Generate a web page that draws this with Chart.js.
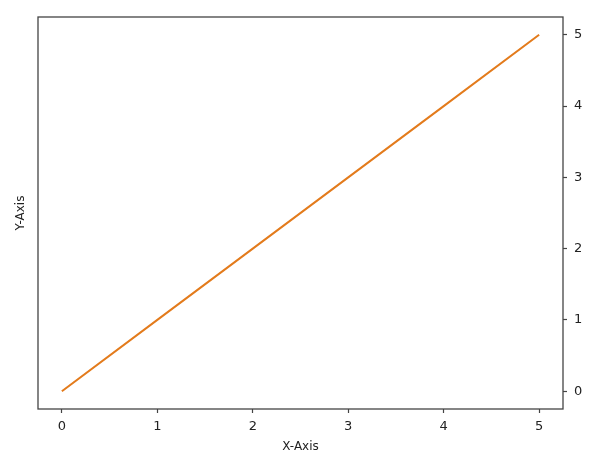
<!DOCTYPE html>
<html>
<head>
<meta charset="utf-8">
<script src="https://cdn.jsdelivr.net/npm/chart.js@4.4.1/dist/chart.umd.min.js"></script>
<style>
  html, body { margin: 0; padding: 0; background: #fff; }
  canvas { display: block; }
</style>
</head>
<body>
<canvas id="lineChart" width="600" height="463"></canvas>
<script>
const xValues = [0, 1, 2, 3, 4, 5];
const yValues = [0, 1, 2, 3, 4, 5];
const tickValues = [0, 1, 2, 3, 4, 5];

const AXIS_COLOR = '#444';
const TEXT_COLOR = '#222';

// matplotlib-style box around the plot area
const frame = {
    id: 'frame',
    afterDraw(chart) {
        const a = chart.chartArea;
        const c = chart.ctx;
        c.save();
        c.strokeStyle = AXIS_COLOR;
        c.lineWidth = 1.3;
        c.strokeRect(a.left, a.top, a.right - a.left, a.bottom - a.top);
        c.restore();
    }
};

let ctx = document.getElementById('lineChart').getContext('2d');
let lineChart = new Chart(ctx, {
    type: 'line',
    data: {
        datasets: [{
            data: xValues.map((x, i) => ({ x: x, y: yValues[i] })),
            borderColor: '#e37b1c',
            borderWidth: 2,
            pointRadius: 0,
            tension: 0,
            fill: false,
            yAxisID: 'y'
        }]
    },
    options: {
        responsive: false,
        animation: false,
        layout: { padding: { top: 17, left: 0, right: 0, bottom: 0 } },
        plugins: { legend: { display: false }, tooltip: { enabled: false } },
        scales: {
            x: {
                type: 'linear',
                min: -0.25,
                max: 5.25,
                afterBuildTicks: axis => { axis.ticks = tickValues.map(v => ({ value: v })); },
                afterFit: axis => { axis.height = 54; },
                border: { display: false },
                grid: { drawOnChartArea: false, drawTicks: true, tickLength: 4, tickColor: AXIS_COLOR, tickWidth: 1.2 },
                ticks: { color: TEXT_COLOR, padding: 6, font: { family: 'DejaVu Sans', size: 13 } },
                title: { display: true, text: 'X-Axis', color: TEXT_COLOR, padding: { top: 9, bottom: 9 }, font: { family: 'DejaVu Sans', size: 12 } }
            },
            y: {
                type: 'linear',
                position: 'right',
                min: -0.25,
                max: 5.25,
                afterBuildTicks: axis => { axis.ticks = tickValues.map(v => ({ value: v })); },
                afterFit: axis => { axis.width = 37; },
                border: { display: false },
                grid: { drawOnChartArea: false, drawTicks: true, tickLength: 4, tickColor: AXIS_COLOR, tickWidth: 1.2 },
                ticks: { color: TEXT_COLOR, padding: 7, font: { family: 'DejaVu Sans', size: 13 } }
            },
            yLeft: {
                type: 'linear',
                position: 'left',
                min: -0.25,
                max: 5.25,
                afterFit: axis => { axis.width = 38; },
                border: { display: false },
                grid: { display: false },
                ticks: { display: false },
                title: { display: true, text: 'Y-Axis', color: TEXT_COLOR, padding: { top: 14, bottom: 14 }, font: { family: 'DejaVu Sans', size: 12 } }
            }
        }
    },
    plugins: [frame]
});
</script>
</body>
</html>
